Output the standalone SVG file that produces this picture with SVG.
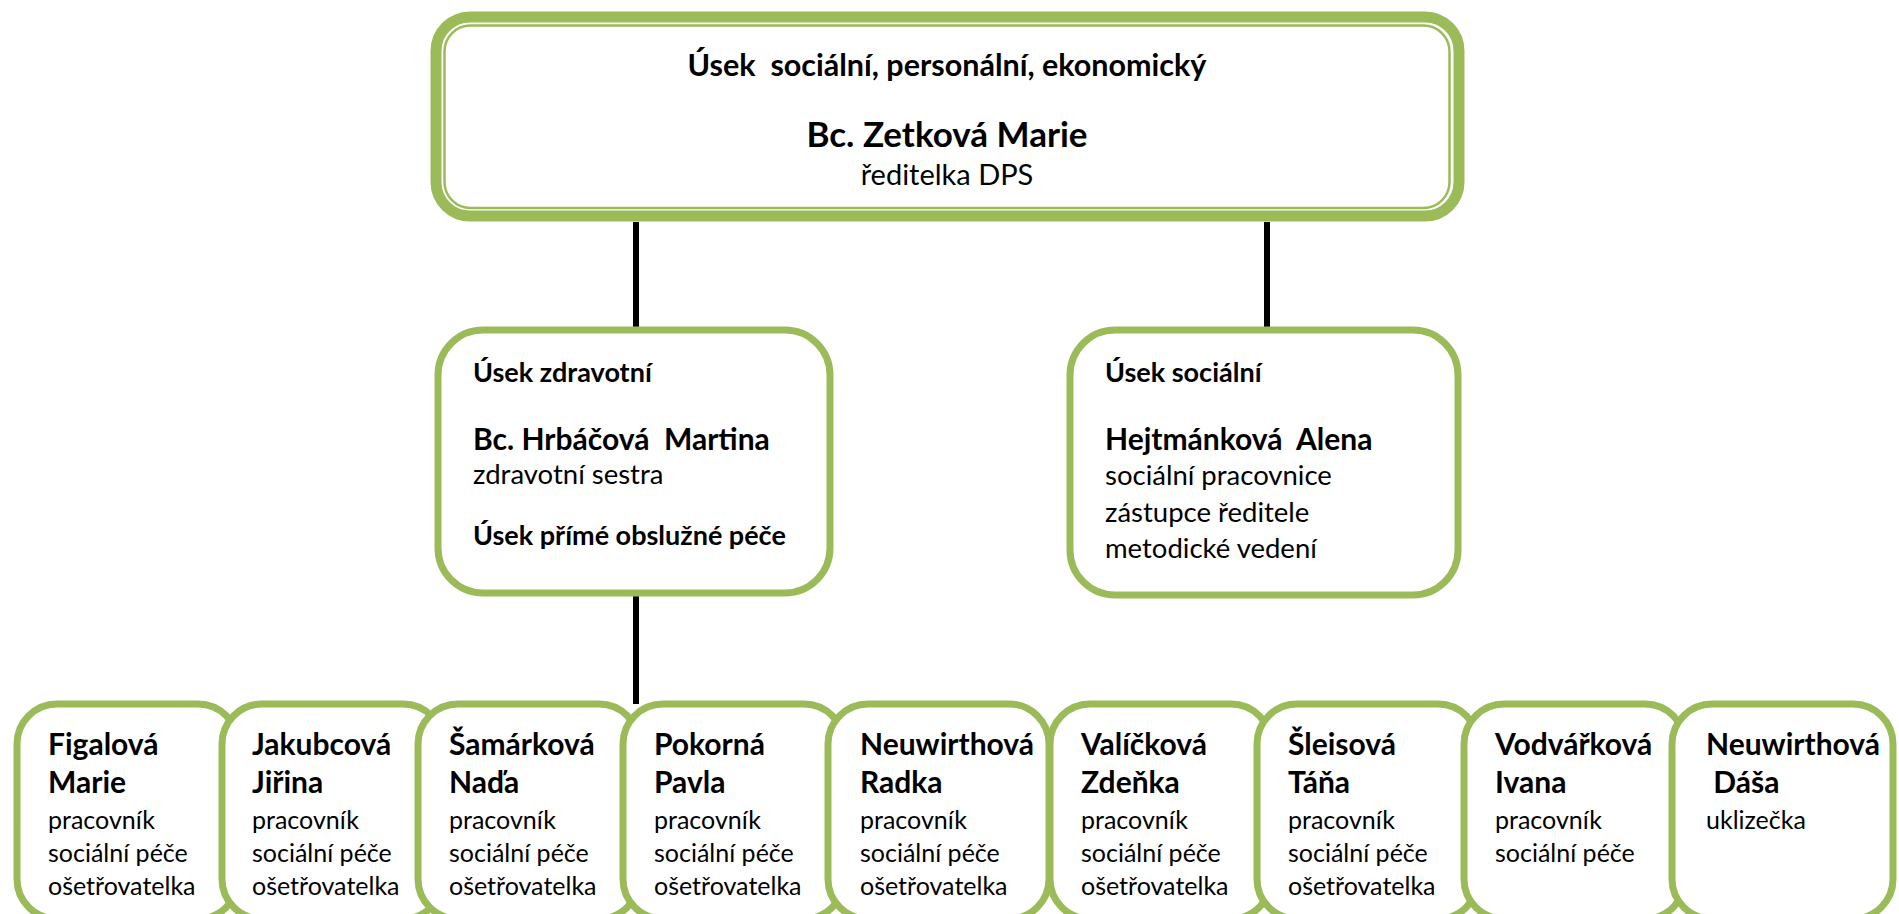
<svg xmlns="http://www.w3.org/2000/svg" width="1899" height="914" viewBox="0 0 1899 914">
<style>
.box{fill:#fff;stroke:#9BBB59;stroke-width:7}
.outer{fill:#fff;stroke:#9BBB59;stroke-width:11}
.inner{fill:none;stroke:#9BBB59;stroke-width:2.5}
.conn{stroke:#000;stroke-width:6;fill:none}
text{font-family:Lato,"Liberation Sans",sans-serif;fill:#000}
.b{font-weight:bold}
.tc{text-anchor:middle}
.sb{font-size:30px;font-weight:bold}
.sr{font-size:25px}
.mb{font-size:27px;font-weight:bold}
.mn{font-size:30px;font-weight:bold}
.mr{font-size:27.5px}
</style>
<rect width="1899" height="914" fill="#fff"/>
<g id="connectors">
<line class="conn" x1="636" y1="222" x2="636" y2="330"/>
<line class="conn" x1="1267" y1="222" x2="1267" y2="330"/>
<line class="conn" x1="636" y1="593" x2="636" y2="704"/>
</g>
<g id="top">
<rect class="outer" x="436" y="17" width="1023" height="199" rx="34"/>
<rect class="inner" x="444.5" y="25.5" width="1005" height="182.5" rx="26"/>
<text class="tc b" x="947" y="76" font-size="30.5" xml:space="preserve">Úsek  sociální, personální, ekonomický</text>
<text class="tc b" x="947" y="147" font-size="35">Bc. Zetková Marie</text>
<text class="tc" x="947" y="185" font-size="29">ředitelka DPS</text>
</g>
<g id="zdravotni">
<rect class="box" x="438" y="330" width="392" height="263" rx="45"/>
<text class="mb" x="473" y="382">Úsek zdravotní</text>
<text class="mn" x="473" y="450" xml:space="preserve">Bc. Hrbáčová  Martina</text>
<text class="mr" x="473" y="484">zdravotní sestra</text>
<text class="mb" x="473" y="545">Úsek přímé obslužné péče</text>
</g>
<g id="socialni">
<rect class="box" x="1070" y="330" width="388" height="265" rx="45"/>
<text class="mb" x="1105" y="382">Úsek sociální</text>
<text class="mn" x="1105" y="450" xml:space="preserve">Hejtmánková  Alena</text>
<text class="mr" x="1105" y="485">sociální pracovnice</text>
<text class="mr" x="1105" y="522">zástupce ředitele</text>
<text class="mr" x="1105" y="558">metodické vedení</text>
</g>
<g id="figalova">
<rect class="box" x="17" y="704" width="221" height="215" rx="40"/>
<text class="sb" x="48" y="755">Figalová</text>
<text class="sb" x="48" y="793">Marie</text>
<text class="sr" x="48" y="829">pracovník</text>
<text class="sr" x="48" y="862">sociální péče</text>
<text class="sr" x="48" y="895">ošetřovatelka</text>
</g>
<g id="jakubcova">
<rect class="box" x="222" y="704" width="221" height="215" rx="40"/>
<text class="sb" x="252" y="755">Jakubcová</text>
<text class="sb" x="252" y="793">Jiřina</text>
<text class="sr" x="252" y="829">pracovník</text>
<text class="sr" x="252" y="862">sociální péče</text>
<text class="sr" x="252" y="895">ošetřovatelka</text>
</g>
<g id="samarkova">
<rect class="box" x="418" y="704" width="221" height="215" rx="40"/>
<text class="sb" x="449" y="755">Šamárková</text>
<text class="sb" x="449" y="793">Naďa</text>
<text class="sr" x="449" y="829">pracovník</text>
<text class="sr" x="449" y="862">sociální péče</text>
<text class="sr" x="449" y="895">ošetřovatelka</text>
</g>
<g id="pokorna">
<rect class="box" x="623" y="704" width="221" height="215" rx="40"/>
<text class="sb" x="654" y="755">Pokorná</text>
<text class="sb" x="654" y="793">Pavla</text>
<text class="sr" x="654" y="829">pracovník</text>
<text class="sr" x="654" y="862">sociální péče</text>
<text class="sr" x="654" y="895">ošetřovatelka</text>
</g>
<g id="neuwirthova-r">
<rect class="box" x="828" y="704" width="221" height="215" rx="40"/>
<text class="sb" x="860" y="755">Neuwirthová</text>
<text class="sb" x="860" y="793">Radka</text>
<text class="sr" x="860" y="829">pracovník</text>
<text class="sr" x="860" y="862">sociální péče</text>
<text class="sr" x="860" y="895">ošetřovatelka</text>
</g>
<g id="valickova">
<rect class="box" x="1050" y="704" width="221" height="215" rx="40"/>
<text class="sb" x="1081" y="755">Valíčková</text>
<text class="sb" x="1081" y="793">Zdeňka</text>
<text class="sr" x="1081" y="829">pracovník</text>
<text class="sr" x="1081" y="862">sociální péče</text>
<text class="sr" x="1081" y="895">ošetřovatelka</text>
</g>
<g id="sleisova">
<rect class="box" x="1257" y="704" width="221" height="215" rx="40"/>
<text class="sb" x="1288" y="755">Šleisová</text>
<text class="sb" x="1288" y="793">Táňa</text>
<text class="sr" x="1288" y="829">pracovník</text>
<text class="sr" x="1288" y="862">sociální péče</text>
<text class="sr" x="1288" y="895">ošetřovatelka</text>
</g>
<g id="vodvarkova">
<rect class="box" x="1464" y="704" width="221" height="215" rx="40"/>
<text class="sb" x="1495" y="755">Vodvářková</text>
<text class="sb" x="1495" y="793">Ivana</text>
<text class="sr" x="1495" y="829">pracovník</text>
<text class="sr" x="1495" y="862">sociální péče</text>
</g>
<g id="neuwirthova-d">
<rect class="box" x="1672" y="704" width="221" height="215" rx="40"/>
<text class="sb" x="1706" y="755">Neuwirthová</text>
<text class="sb" x="1706" y="793" xml:space="preserve"> Dáša</text>
<text class="sr" x="1706" y="829">uklizečka</text>
</g>
</svg>
